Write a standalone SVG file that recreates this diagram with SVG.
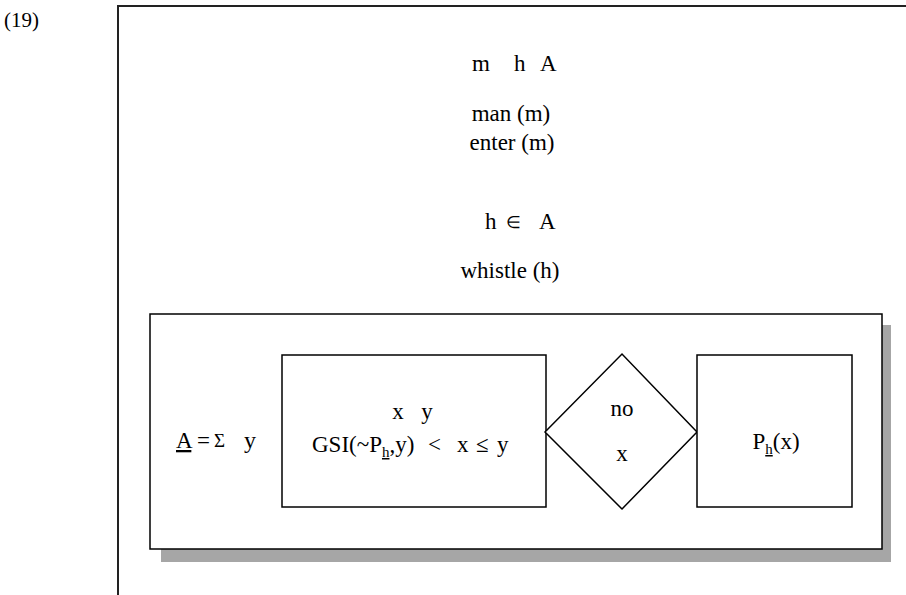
<svg xmlns="http://www.w3.org/2000/svg" width="906" height="595" viewBox="0 0 906 595">
<style>
text { font-family: "Liberation Serif", "Times New Roman", serif; font-size: 23px; fill: #000; }
.c { text-anchor: middle; }
.box { fill: #fff; stroke: #000; stroke-width: 1.5; }
.frame { fill: none; stroke: #222; stroke-width: 2; }
.sub { font-size: 15px; }
.sym { font-size: 17px; }
</style>
<rect width="906" height="595" fill="#fff"/>
<text x="4" y="27" style="font-size:21px">(19)</text>
<g id="frame">
<path class="frame" d="M118,595 V6 H906"/>
</g>
<g id="header">
<text x="472" y="71">m</text>
<text x="514" y="71">h</text>
<text x="540" y="71">A</text>
<text class="c" x="511" y="121">man (m)</text>
<text class="c" x="512" y="150">enter (m)</text>
<text x="485" y="229">h</text>
<text class="sym" x="506" y="228">∈</text>
<text x="539" y="229">A</text>
<text class="c" x="510" y="278">whistle (h)</text>
</g>
<g id="container">
<rect x="161" y="325" width="730" height="237" fill="#a6a6a6"/>
<rect x="150" y="314" width="732" height="235" class="box"/>
<text x="176" y="448"><tspan text-decoration="underline">A</tspan> =</text>
<text x="214" y="447" style="font-size:19px">Σ</text>
<text x="244" y="448" style="font-size:24px">y</text>
</g>
<g id="condition">
<rect x="282" y="355" width="264" height="152" class="box"/>
<text class="c" x="398" y="419">x</text>
<text class="c" x="427" y="419">y</text>
<text x="312" y="452">GSI(~P<tspan class="sub" dy="5" text-decoration="underline">h</tspan><tspan dy="-5">,y)</tspan></text>
<text x="428" y="452">&lt;</text>
<text x="457" y="452">x</text>
<text x="476" y="452">≤</text>
<text x="497" y="452">y</text>
</g>
<g id="decision">
<polygon points="545,432 622,354 697,432 622,509" class="box"/>
<text class="c" x="622" y="416">no</text>
<text class="c" x="622" y="461">x</text>
</g>
<g id="result">
<rect x="697" y="355" width="155" height="152" class="box"/>
<text class="c" x="776" y="449">P<tspan class="sub" dy="5" text-decoration="underline">h</tspan><tspan dy="-5">(x)</tspan></text>
</g>
<g id="connectors"></g>
</svg>
